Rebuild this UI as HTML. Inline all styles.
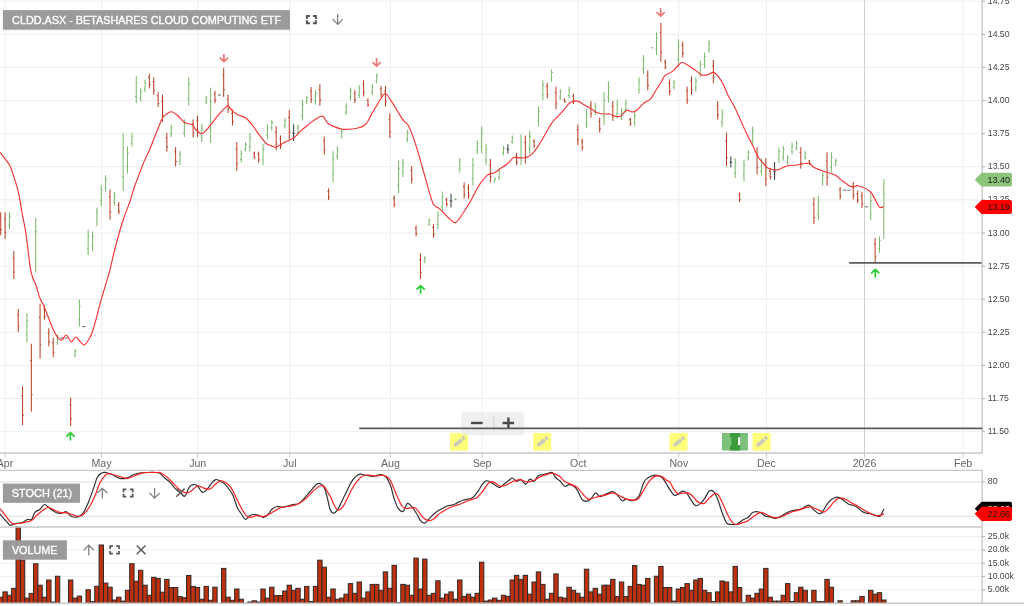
<!DOCTYPE html>
<html><head><meta charset="utf-8"><title>CLDD.ASX chart</title>
<style>
html,body{margin:0;padding:0;background:#fff;}
body{width:1024px;height:606px;overflow:hidden;}
svg{display:block;filter:blur(0.3px);}
</style></head>
<body>
<svg width="1024" height="606" viewBox="0 0 1024 606">
<rect width="1024" height="606" fill="#fff"/>
<g stroke="#eeeeee" stroke-width="1" fill="none">
<line x1="0" y1="1.21" x2="982.2" y2="1.21"/>
<line x1="0" y1="34.33" x2="982.2" y2="34.33"/>
<line x1="0" y1="67.44" x2="982.2" y2="67.44"/>
<line x1="0" y1="100.55" x2="982.2" y2="100.55"/>
<line x1="0" y1="133.66" x2="982.2" y2="133.66"/>
<line x1="0" y1="166.77" x2="982.2" y2="166.77"/>
<line x1="0" y1="199.89" x2="982.2" y2="199.89"/>
<line x1="0" y1="233.00" x2="982.2" y2="233.00"/>
<line x1="0" y1="266.11" x2="982.2" y2="266.11"/>
<line x1="0" y1="299.22" x2="982.2" y2="299.22"/>
<line x1="0" y1="332.34" x2="982.2" y2="332.34"/>
<line x1="0" y1="365.45" x2="982.2" y2="365.45"/>
<line x1="0" y1="398.56" x2="982.2" y2="398.56"/>
<line x1="0" y1="431.68" x2="982.2" y2="431.68"/>
<line x1="5.0" y1="0" x2="5.0" y2="453.0"/>
<line x1="101.5" y1="0" x2="101.5" y2="453.0"/>
<line x1="197.7" y1="0" x2="197.7" y2="453.0"/>
<line x1="289.8" y1="0" x2="289.8" y2="453.0"/>
<line x1="390.4" y1="0" x2="390.4" y2="453.0"/>
<line x1="482.1" y1="0" x2="482.1" y2="453.0"/>
<line x1="578.3" y1="0" x2="578.3" y2="453.0"/>
<line x1="678.8" y1="0" x2="678.8" y2="453.0"/>
<line x1="766.4" y1="0" x2="766.4" y2="453.0"/>
<line x1="963.1" y1="0" x2="963.1" y2="453.0"/>
</g>
<line x1="864.5" y1="0" x2="864.5" y2="453.0" stroke="#cfcfcf" stroke-width="1"/>
<g stroke="#e4e4e4" stroke-width="1.2">
<line x1="0" y1="481.9" x2="982.2" y2="481.9"/>
<line x1="0" y1="516.4" x2="982.2" y2="516.4"/>
</g>
<g stroke="#eeeeee" stroke-width="1">
<line x1="0" y1="536.7" x2="982.2" y2="536.7"/>
<line x1="0" y1="550.0" x2="982.2" y2="550.0"/>
<line x1="0" y1="563.3" x2="982.2" y2="563.3"/>
<line x1="0" y1="576.4" x2="982.2" y2="576.4"/>
<line x1="0" y1="590.0" x2="982.2" y2="590.0"/>
</g>
<g fill="#c0300c" stroke="#2a2a2a" stroke-width="1">
<rect x="-1.46" y="597.20" width="4.37" height="6.10"/>
<rect x="2.91" y="591.90" width="4.37" height="11.40"/>
<rect x="7.29" y="595.30" width="4.37" height="8.00"/>
<rect x="11.66" y="588.30" width="4.37" height="15.00"/>
<rect x="16.03" y="527.00" width="4.37" height="76.30"/>
<rect x="20.40" y="560.20" width="4.37" height="43.10"/>
<rect x="24.77" y="598.10" width="4.37" height="5.20"/>
<rect x="29.15" y="593.40" width="4.37" height="9.90"/>
<rect x="33.52" y="563.75" width="4.37" height="39.55"/>
<rect x="37.89" y="585.20" width="4.37" height="18.10"/>
<rect x="42.26" y="597.20" width="4.37" height="6.10"/>
<rect x="46.63" y="580.00" width="4.37" height="23.30"/>
<rect x="51.01" y="602.00" width="4.37" height="1.30"/>
<rect x="55.38" y="576.25" width="4.37" height="27.05"/>
<rect x="68.49" y="580.00" width="4.37" height="23.30"/>
<rect x="72.87" y="598.10" width="4.37" height="5.20"/>
<rect x="77.24" y="596.10" width="4.37" height="7.20"/>
<rect x="85.98" y="589.80" width="4.37" height="13.50"/>
<rect x="90.35" y="601.60" width="4.37" height="1.70"/>
<rect x="94.73" y="586.25" width="4.37" height="17.05"/>
<rect x="99.10" y="545.00" width="4.37" height="58.30"/>
<rect x="103.47" y="583.10" width="4.37" height="20.20"/>
<rect x="107.84" y="587.20" width="4.37" height="16.10"/>
<rect x="112.21" y="600.00" width="4.37" height="3.30"/>
<rect x="116.59" y="597.20" width="4.37" height="6.10"/>
<rect x="120.96" y="601.10" width="4.37" height="2.20"/>
<rect x="125.33" y="590.30" width="4.37" height="13.00"/>
<rect x="129.70" y="563.75" width="4.37" height="39.55"/>
<rect x="134.07" y="581.25" width="4.37" height="22.05"/>
<rect x="138.45" y="570.30" width="4.37" height="33.00"/>
<rect x="142.82" y="585.20" width="4.37" height="18.10"/>
<rect x="147.19" y="595.30" width="4.37" height="8.00"/>
<rect x="151.56" y="577.30" width="4.37" height="26.00"/>
<rect x="155.93" y="578.40" width="4.37" height="24.90"/>
<rect x="160.31" y="592.20" width="4.37" height="11.10"/>
<rect x="164.68" y="579.40" width="4.37" height="23.90"/>
<rect x="169.05" y="587.50" width="4.37" height="15.80"/>
<rect x="173.42" y="587.50" width="4.37" height="15.80"/>
<rect x="177.79" y="596.60" width="4.37" height="6.70"/>
<rect x="182.17" y="597.70" width="4.37" height="5.60"/>
<rect x="186.54" y="575.50" width="4.37" height="27.80"/>
<rect x="190.91" y="586.40" width="4.37" height="16.90"/>
<rect x="195.28" y="587.50" width="4.37" height="15.80"/>
<rect x="199.65" y="599.20" width="4.37" height="4.10"/>
<rect x="204.03" y="586.40" width="4.37" height="16.90"/>
<rect x="208.40" y="600.30" width="4.37" height="3.00"/>
<rect x="212.77" y="587.20" width="4.37" height="16.10"/>
<rect x="221.51" y="568.40" width="4.37" height="34.90"/>
<rect x="225.89" y="597.20" width="4.37" height="6.10"/>
<rect x="230.26" y="600.30" width="4.37" height="3.00"/>
<rect x="234.63" y="589.00" width="4.37" height="14.30"/>
<rect x="239.00" y="599.20" width="4.37" height="4.10"/>
<rect x="247.75" y="602.00" width="4.37" height="1.30"/>
<rect x="252.12" y="600.80" width="4.37" height="2.50"/>
<rect x="256.49" y="602.00" width="4.37" height="1.30"/>
<rect x="260.86" y="589.00" width="4.37" height="14.30"/>
<rect x="265.23" y="598.10" width="4.37" height="5.20"/>
<rect x="269.61" y="587.20" width="4.37" height="16.10"/>
<rect x="273.98" y="595.60" width="4.37" height="7.70"/>
<rect x="278.35" y="595.60" width="4.37" height="7.70"/>
<rect x="282.72" y="591.00" width="4.37" height="12.30"/>
<rect x="287.09" y="585.20" width="4.37" height="18.10"/>
<rect x="291.47" y="590.30" width="4.37" height="13.00"/>
<rect x="295.84" y="588.30" width="4.37" height="15.00"/>
<rect x="300.21" y="599.20" width="4.37" height="4.10"/>
<rect x="304.58" y="586.40" width="4.37" height="16.90"/>
<rect x="308.95" y="601.60" width="4.37" height="1.70"/>
<rect x="313.33" y="586.40" width="4.37" height="16.90"/>
<rect x="317.70" y="560.20" width="4.37" height="43.10"/>
<rect x="322.07" y="567.20" width="4.37" height="36.10"/>
<rect x="326.44" y="597.20" width="4.37" height="6.10"/>
<rect x="330.81" y="589.00" width="4.37" height="14.30"/>
<rect x="335.19" y="599.20" width="4.37" height="4.10"/>
<rect x="339.56" y="598.10" width="4.37" height="5.20"/>
<rect x="343.93" y="594.20" width="4.37" height="9.10"/>
<rect x="348.30" y="583.60" width="4.37" height="19.70"/>
<rect x="352.67" y="593.30" width="4.37" height="10.00"/>
<rect x="357.05" y="582.00" width="4.37" height="21.30"/>
<rect x="361.42" y="598.10" width="4.37" height="5.20"/>
<rect x="365.79" y="591.90" width="4.37" height="11.40"/>
<rect x="370.16" y="584.40" width="4.37" height="18.90"/>
<rect x="374.53" y="584.40" width="4.37" height="18.90"/>
<rect x="378.91" y="590.30" width="4.37" height="13.00"/>
<rect x="383.28" y="571.90" width="4.37" height="31.40"/>
<rect x="387.65" y="588.30" width="4.37" height="15.00"/>
<rect x="392.02" y="565.30" width="4.37" height="38.00"/>
<rect x="396.39" y="602.50" width="4.37" height="0.80"/>
<rect x="400.77" y="584.40" width="4.37" height="18.90"/>
<rect x="405.14" y="585.20" width="4.37" height="18.10"/>
<rect x="409.51" y="595.30" width="4.37" height="8.00"/>
<rect x="413.88" y="558.10" width="4.37" height="45.20"/>
<rect x="418.25" y="589.00" width="4.37" height="14.30"/>
<rect x="422.63" y="559.10" width="4.37" height="44.20"/>
<rect x="427.00" y="595.30" width="4.37" height="8.00"/>
<rect x="431.37" y="593.30" width="4.37" height="10.00"/>
<rect x="435.74" y="580.80" width="4.37" height="22.50"/>
<rect x="440.11" y="598.10" width="4.37" height="5.20"/>
<rect x="444.49" y="594.20" width="4.37" height="9.10"/>
<rect x="448.86" y="591.90" width="4.37" height="11.40"/>
<rect x="453.23" y="599.20" width="4.37" height="4.10"/>
<rect x="457.60" y="580.00" width="4.37" height="23.30"/>
<rect x="461.97" y="596.40" width="4.37" height="6.90"/>
<rect x="466.35" y="594.20" width="4.37" height="9.10"/>
<rect x="470.72" y="597.20" width="4.37" height="6.10"/>
<rect x="475.09" y="593.30" width="4.37" height="10.00"/>
<rect x="479.46" y="562.20" width="4.37" height="41.10"/>
<rect x="483.83" y="601.10" width="4.37" height="2.20"/>
<rect x="488.21" y="600.00" width="4.37" height="3.30"/>
<rect x="492.58" y="598.10" width="4.37" height="5.20"/>
<rect x="496.95" y="600.30" width="4.37" height="3.00"/>
<rect x="501.32" y="595.30" width="4.37" height="8.00"/>
<rect x="505.69" y="596.40" width="4.37" height="6.90"/>
<rect x="510.07" y="580.00" width="4.37" height="23.30"/>
<rect x="514.44" y="575.30" width="4.37" height="28.00"/>
<rect x="518.81" y="579.40" width="4.37" height="23.90"/>
<rect x="523.18" y="575.30" width="4.37" height="28.00"/>
<rect x="527.55" y="594.20" width="4.37" height="9.10"/>
<rect x="531.93" y="582.00" width="4.37" height="21.30"/>
<rect x="536.30" y="571.90" width="4.37" height="31.40"/>
<rect x="540.67" y="584.40" width="4.37" height="18.90"/>
<rect x="545.04" y="599.20" width="4.37" height="4.10"/>
<rect x="549.41" y="593.30" width="4.37" height="10.00"/>
<rect x="553.79" y="573.90" width="4.37" height="29.40"/>
<rect x="558.16" y="597.20" width="4.37" height="6.10"/>
<rect x="562.53" y="598.10" width="4.37" height="5.20"/>
<rect x="566.90" y="587.20" width="4.37" height="16.10"/>
<rect x="571.27" y="590.30" width="4.37" height="13.00"/>
<rect x="575.65" y="593.30" width="4.37" height="10.00"/>
<rect x="580.02" y="597.20" width="4.37" height="6.10"/>
<rect x="584.39" y="569.20" width="4.37" height="34.10"/>
<rect x="588.76" y="591.90" width="4.37" height="11.40"/>
<rect x="593.13" y="588.30" width="4.37" height="15.00"/>
<rect x="597.51" y="594.20" width="4.37" height="9.10"/>
<rect x="601.88" y="585.20" width="4.37" height="18.10"/>
<rect x="606.25" y="585.20" width="4.37" height="18.10"/>
<rect x="610.62" y="579.40" width="4.37" height="23.90"/>
<rect x="614.99" y="596.60" width="4.37" height="6.70"/>
<rect x="619.37" y="582.00" width="4.37" height="21.30"/>
<rect x="623.74" y="596.60" width="4.37" height="6.70"/>
<rect x="628.11" y="586.40" width="4.37" height="16.90"/>
<rect x="632.48" y="565.60" width="4.37" height="37.70"/>
<rect x="636.85" y="584.40" width="4.37" height="18.90"/>
<rect x="641.23" y="585.20" width="4.37" height="18.10"/>
<rect x="645.60" y="578.40" width="4.37" height="24.90"/>
<rect x="654.34" y="576.25" width="4.37" height="27.05"/>
<rect x="658.71" y="566.40" width="4.37" height="36.90"/>
<rect x="663.09" y="587.50" width="4.37" height="15.80"/>
<rect x="667.46" y="587.50" width="4.37" height="15.80"/>
<rect x="671.83" y="601.10" width="4.37" height="2.20"/>
<rect x="676.20" y="589.00" width="4.37" height="14.30"/>
<rect x="680.57" y="587.50" width="4.37" height="15.80"/>
<rect x="684.95" y="583.60" width="4.37" height="19.70"/>
<rect x="689.32" y="590.30" width="4.37" height="13.00"/>
<rect x="693.69" y="580.00" width="4.37" height="23.30"/>
<rect x="698.06" y="578.40" width="4.37" height="24.90"/>
<rect x="702.43" y="590.30" width="4.37" height="13.00"/>
<rect x="706.81" y="592.70" width="4.37" height="10.60"/>
<rect x="711.18" y="601.60" width="4.37" height="1.70"/>
<rect x="715.55" y="591.90" width="4.37" height="11.40"/>
<rect x="719.92" y="581.00" width="4.37" height="22.30"/>
<rect x="724.29" y="582.00" width="4.37" height="21.30"/>
<rect x="728.67" y="591.90" width="4.37" height="11.40"/>
<rect x="733.04" y="566.40" width="4.37" height="36.90"/>
<rect x="737.41" y="587.50" width="4.37" height="15.80"/>
<rect x="741.78" y="602.50" width="4.37" height="0.80"/>
<rect x="746.15" y="595.30" width="4.37" height="8.00"/>
<rect x="750.53" y="598.10" width="4.37" height="5.20"/>
<rect x="754.90" y="593.30" width="4.37" height="10.00"/>
<rect x="759.27" y="589.00" width="4.37" height="14.30"/>
<rect x="763.64" y="568.40" width="4.37" height="34.90"/>
<rect x="768.01" y="597.20" width="4.37" height="6.10"/>
<rect x="772.39" y="601.10" width="4.37" height="2.20"/>
<rect x="776.76" y="601.10" width="4.37" height="2.20"/>
<rect x="781.13" y="595.30" width="4.37" height="8.00"/>
<rect x="785.50" y="583.60" width="4.37" height="19.70"/>
<rect x="789.87" y="601.60" width="4.37" height="1.70"/>
<rect x="794.25" y="592.70" width="4.37" height="10.60"/>
<rect x="798.62" y="587.20" width="4.37" height="16.10"/>
<rect x="802.99" y="590.30" width="4.37" height="13.00"/>
<rect x="807.36" y="602.50" width="4.37" height="0.80"/>
<rect x="811.73" y="590.30" width="4.37" height="13.00"/>
<rect x="816.11" y="601.60" width="4.37" height="1.70"/>
<rect x="820.48" y="601.60" width="4.37" height="1.70"/>
<rect x="824.85" y="579.40" width="4.37" height="23.90"/>
<rect x="829.22" y="587.20" width="4.37" height="16.10"/>
<rect x="837.97" y="600.80" width="4.37" height="2.50"/>
<rect x="851.08" y="600.80" width="4.37" height="2.50"/>
<rect x="855.45" y="600.80" width="4.37" height="2.50"/>
<rect x="859.83" y="596.40" width="4.37" height="6.90"/>
<rect x="868.57" y="590.30" width="4.37" height="13.00"/>
<rect x="872.94" y="594.20" width="4.37" height="9.10"/>
<rect x="877.31" y="592.70" width="4.37" height="10.60"/>
<rect x="881.69" y="600.00" width="4.37" height="3.30"/>
</g>
<g stroke-width="1" fill="none" stroke-linecap="butt">
<path d="M0.73 212.30V235.30M-0.47 218.05H0.73M0.73 229.55H1.93" stroke="#b83a1e"/>
<path d="M5.10 212.30V239.00M3.90 218.98H5.10M5.10 232.32H6.30" stroke="#b83a1e"/>
<path d="M9.47 212.30V229.60M8.27 225.28H9.47M9.47 216.62H10.67" stroke="#78b868"/>
<path d="M13.84 251.00V279.00M12.64 258.00H13.84M13.84 272.00H15.04" stroke="#b83a1e"/>
<path d="M18.22 309.00V332.00M17.02 314.75H18.22M18.22 326.25H19.42" stroke="#b83a1e"/>
<path d="M22.59 386.00V425.00M21.39 395.75H22.59M22.59 415.25H23.79" stroke="#b83a1e"/>
<path d="M26.96 313.00V342.40M25.76 335.05H26.96M26.96 320.35H28.16" stroke="#78b868"/>
<path d="M31.33 343.70V411.70M30.13 360.70H31.33M31.33 394.70H32.53" stroke="#b83a1e"/>
<path d="M35.70 218.00V272.40M34.50 258.80H35.70M35.70 231.60H36.90" stroke="#78b868"/>
<path d="M40.08 303.60V358.50M38.88 317.33H40.08M40.08 344.77H41.28" stroke="#b83a1e"/>
<path d="M44.45 305.30V319.70M43.25 308.90H44.45M44.45 316.10H45.65" stroke="#b83a1e"/>
<path d="M48.82 328.30V346.40M47.62 332.82H48.82M48.82 341.88H50.02" stroke="#b83a1e"/>
<path d="M53.19 337.70V357.30M51.99 342.60H53.19M53.19 352.40H54.39" stroke="#b83a1e"/>
<path d="M57.56 334.50V345.00M56.36 342.38H57.56M57.56 337.12H58.76" stroke="#78b868"/>
<line x1="60.34" y1="338.00" x2="63.54" y2="338.00" stroke="#666666"/>
<line x1="64.71" y1="338.00" x2="67.91" y2="338.00" stroke="#666666"/>
<path d="M70.68 397.60V426.00M69.48 404.70H70.68M70.68 418.90H71.88" stroke="#b83a1e"/>
<path d="M75.05 349.00V357.30M73.85 355.23H75.05M75.05 351.07H76.25" stroke="#78b868"/>
<path d="M79.42 299.40V326.60M78.22 319.80H79.42M79.42 306.20H80.62" stroke="#78b868"/>
<line x1="82.20" y1="326.60" x2="85.40" y2="326.60" stroke="#666666"/>
<path d="M88.17 229.60V255.20M86.97 248.80H88.17M88.17 236.00H89.37" stroke="#78b868"/>
<path d="M92.54 231.50V250.80M91.34 245.98H92.54M92.54 236.32H93.74" stroke="#78b868"/>
<path d="M96.91 207.50V226.20M95.71 221.52H96.91M96.91 212.18H98.11" stroke="#78b868"/>
<path d="M101.28 185.30V206.20M100.08 200.97H101.28M101.28 190.53H102.48" stroke="#78b868"/>
<path d="M105.66 175.00V192.20M104.46 187.90H105.66M105.66 179.30H106.86" stroke="#78b868"/>
<path d="M110.03 189.50V219.60M108.83 197.03H110.03M110.03 212.07H111.23" stroke="#b83a1e"/>
<path d="M114.40 192.00V205.50M113.20 202.12H114.40M114.40 195.38H115.60" stroke="#78b868"/>
<path d="M118.77 202.20V214.30M117.57 205.22H118.77M118.77 211.28H119.97" stroke="#b83a1e"/>
<path d="M123.14 133.00V191.20M121.94 176.65H123.14M123.14 147.55H124.34" stroke="#78b868"/>
<path d="M127.52 146.60V173.40M126.32 166.70H127.52M127.52 153.30H128.72" stroke="#78b868"/>
<path d="M131.89 133.00V146.60M130.69 143.20H131.89M131.89 136.40H133.09" stroke="#78b868"/>
<path d="M136.26 76.00V103.30M135.06 96.47H136.26M136.26 82.83H137.46" stroke="#78b868"/>
<path d="M140.63 88.50V101.60M139.43 98.32H140.63M140.63 91.78H141.83" stroke="#78b868"/>
<path d="M145.00 79.80V92.20M143.80 89.10H145.00M145.00 82.90H146.20" stroke="#78b868"/>
<path d="M149.38 73.60V88.50M148.18 77.32H149.38M149.38 84.78H150.58" stroke="#b83a1e"/>
<path d="M153.75 77.30V94.70M152.55 81.65H153.75M153.75 90.35H154.95" stroke="#b83a1e"/>
<path d="M158.12 92.20V107.00M156.92 95.90H158.12M158.12 103.30H159.32" stroke="#b83a1e"/>
<path d="M162.49 94.70V121.90M161.29 101.50H162.49M162.49 115.10H163.69" stroke="#b83a1e"/>
<path d="M166.86 133.00V151.60M165.66 137.65H166.86M166.86 146.95H168.06" stroke="#b83a1e"/>
<path d="M171.24 124.90V137.20M170.04 134.12H171.24M171.24 127.97H172.44" stroke="#78b868"/>
<path d="M175.61 147.10V166.40M174.41 151.93H175.61M175.61 161.57H176.81" stroke="#b83a1e"/>
<path d="M179.98 151.00V165.20M178.78 161.65H179.98M179.98 154.55H181.18" stroke="#78b868"/>
<path d="M184.35 119.40V137.20M183.15 132.75H184.35M184.35 123.85H185.55" stroke="#78b868"/>
<path d="M188.72 77.30V105.80M187.52 98.67H188.72M188.72 84.42H189.92" stroke="#78b868"/>
<path d="M193.10 119.40V137.50M191.90 123.93H193.10M193.10 132.97H194.30" stroke="#b83a1e"/>
<path d="M197.47 115.60V137.10M196.27 120.97H197.47M197.47 131.72H198.67" stroke="#b83a1e"/>
<path d="M201.84 123.80V142.10M200.64 137.53H201.84M201.84 128.38H203.04" stroke="#78b868"/>
<path d="M206.21 95.80V104.00M205.01 101.95H206.21M206.21 97.85H207.41" stroke="#78b868"/>
<path d="M210.58 87.60V142.80M209.38 129.00H210.58M210.58 101.40H211.78" stroke="#78b868"/>
<path d="M214.96 90.80V103.20M213.76 93.90H214.96M214.96 100.10H216.16" stroke="#b83a1e"/>
<line x1="217.73" y1="95.00" x2="220.93" y2="95.00" stroke="#666666"/>
<path d="M223.70 67.80V97.00M222.50 75.10H223.70M223.70 89.70H224.90" stroke="#b83a1e"/>
<path d="M228.07 94.60V113.10M226.87 99.22H228.07M228.07 108.47H229.27" stroke="#b83a1e"/>
<path d="M232.44 109.40V125.50M231.24 113.43H232.44M232.44 121.47H233.64" stroke="#b83a1e"/>
<path d="M236.82 142.10V170.80M235.62 149.28H236.82M236.82 163.62H238.02" stroke="#b83a1e"/>
<path d="M241.19 150.20V162.60M239.99 159.50H241.19M241.19 153.30H242.39" stroke="#78b868"/>
<path d="M245.56 142.10V151.50M244.36 149.15H245.56M245.56 144.45H246.76" stroke="#78b868"/>
<path d="M249.93 132.90V151.50M248.73 146.85H249.93M249.93 137.55H251.13" stroke="#78b868"/>
<path d="M254.30 151.50V158.90M253.10 153.35H254.30M254.30 157.05H255.50" stroke="#b83a1e"/>
<path d="M258.68 151.50V162.60M257.48 154.28H258.68M258.68 159.82H259.88" stroke="#b83a1e"/>
<path d="M263.05 144.00V165.10M261.85 159.82H263.05M263.05 149.28H264.25" stroke="#78b868"/>
<path d="M267.42 124.30V139.10M266.22 135.40H267.42M267.42 128.00H268.62" stroke="#78b868"/>
<path d="M271.79 119.80V130.40M270.59 127.75H271.79M271.79 122.45H272.99" stroke="#78b868"/>
<path d="M276.16 126.20V150.20M274.96 132.20H276.16M276.16 144.20H277.36" stroke="#b83a1e"/>
<path d="M280.54 135.40V149.00M279.34 138.80H280.54M280.54 145.60H281.74" stroke="#b83a1e"/>
<path d="M284.91 118.00V128.70M283.71 126.02H284.91M284.91 120.67H286.11" stroke="#78b868"/>
<path d="M289.28 110.00V139.60M288.08 117.40H289.28M289.28 132.20H290.48" stroke="#b83a1e"/>
<path d="M293.65 124.30V141.10M292.45 132.70H293.65M293.65 133.54H294.85" stroke="#2f3a40"/>
<path d="M298.02 124.30V135.40M296.82 132.62H298.02M298.02 127.08H299.22" stroke="#78b868"/>
<path d="M302.40 99.50V120.50M301.20 115.25H302.40M302.40 104.75H303.60" stroke="#78b868"/>
<path d="M306.77 95.80V104.00M305.57 101.95H306.77M306.77 97.85H307.97" stroke="#78b868"/>
<path d="M311.14 87.10V103.20M309.94 91.12H311.14M311.14 99.17H312.34" stroke="#b83a1e"/>
<path d="M315.51 90.10V104.50M314.31 100.90H315.51M315.51 93.70H316.71" stroke="#78b868"/>
<path d="M319.88 84.20V105.70M318.68 89.58H319.88M319.88 100.33H321.08" stroke="#b83a1e"/>
<path d="M324.26 136.60V154.50M323.06 141.07H324.26M324.26 150.03H325.46" stroke="#b83a1e"/>
<path d="M328.63 188.40V200.00M327.43 191.30H328.63M328.63 197.10H329.83" stroke="#b83a1e"/>
<path d="M333.00 151.30V182.50M331.80 174.70H333.00M333.00 159.10H334.20" stroke="#78b868"/>
<path d="M337.37 146.40V159.60M336.17 156.30H337.37M337.37 149.70H338.57" stroke="#78b868"/>
<path d="M341.74 128.70V138.60M340.54 136.12H341.74M341.74 131.17H342.94" stroke="#78b868"/>
<path d="M346.12 103.20V114.90M344.92 111.98H346.12M346.12 106.12H347.32" stroke="#78b868"/>
<path d="M350.49 87.60V100.70M349.29 97.42H350.49M350.49 90.88H351.69" stroke="#78b868"/>
<path d="M354.86 90.10V103.20M353.66 93.38H354.86M354.86 99.92H356.06" stroke="#b83a1e"/>
<path d="M359.23 85.10V98.30M358.03 95.00H359.23M359.23 88.40H360.43" stroke="#78b868"/>
<path d="M363.60 80.20V96.50M362.40 84.28H363.60M363.60 92.42H364.80" stroke="#b83a1e"/>
<path d="M367.98 98.30V106.90M366.78 100.45H367.98M367.98 104.75H369.18" stroke="#b83a1e"/>
<path d="M372.35 84.20V95.00M371.15 92.30H372.35M372.35 86.90H373.55" stroke="#78b868"/>
<path d="M376.72 73.50V83.40M375.52 80.93H376.72M376.72 75.97H377.92" stroke="#78b868"/>
<path d="M381.09 85.90V97.00M379.89 88.68H381.09M381.09 94.22H382.29" stroke="#b83a1e"/>
<path d="M385.46 86.00V106.60M384.26 91.15H385.46M385.46 101.45H386.66" stroke="#b83a1e"/>
<path d="M389.84 113.30V138.00M388.64 119.47H389.84M389.84 131.82H391.04" stroke="#b83a1e"/>
<path d="M394.21 195.40V207.40M393.01 198.40H394.21M394.21 204.40H395.41" stroke="#b83a1e"/>
<path d="M398.58 160.60V193.00M397.38 184.90H398.58M398.58 168.70H399.78" stroke="#78b868"/>
<path d="M402.95 159.00V177.00M401.75 172.50H402.95M402.95 163.50H404.15" stroke="#78b868"/>
<path d="M407.32 130.00V142.30M406.12 139.23H407.32M407.32 133.07H408.52" stroke="#78b868"/>
<path d="M411.70 166.00V183.40M410.50 170.35H411.70M411.70 179.05H412.90" stroke="#b83a1e"/>
<path d="M416.07 225.50V236.40M414.87 228.22H416.07M416.07 233.68H417.27" stroke="#b83a1e"/>
<path d="M420.44 253.30V279.00M419.24 259.73H420.44M420.44 272.57H421.64" stroke="#b83a1e"/>
<path d="M424.81 256.20V263.20M423.61 261.45H424.81M424.81 257.95H426.01" stroke="#78b868"/>
<path d="M429.18 218.60V226.00M427.98 224.15H429.18M429.18 220.45H430.38" stroke="#78b868"/>
<path d="M433.56 224.00V237.80M432.36 227.45H433.56M433.56 234.35H434.76" stroke="#b83a1e"/>
<path d="M437.93 211.30V229.10M436.73 224.65H437.93M437.93 215.75H439.13" stroke="#78b868"/>
<path d="M442.30 191.50V212.00M441.10 206.88H442.30M442.30 196.62H443.50" stroke="#78b868"/>
<path d="M446.67 197.60V206.50M445.47 199.82H446.67M446.67 204.28H447.87" stroke="#b83a1e"/>
<path d="M451.04 193.80V207.50M449.84 200.65H451.04M451.04 201.34H452.24" stroke="#2f3a40"/>
<path d="M455.42 198.70V200.00M454.22 199.68H455.42M455.42 199.02H456.62" stroke="#78b868"/>
<path d="M459.79 157.90V172.70M458.59 169.00H459.79M459.79 161.60H460.99" stroke="#78b868"/>
<path d="M464.16 182.50V198.50M462.96 186.50H464.16M464.16 194.50H465.36" stroke="#b83a1e"/>
<path d="M468.53 184.40V198.80M467.33 188.00H468.53M468.53 195.20H469.73" stroke="#b83a1e"/>
<path d="M472.90 157.90V185.80M471.70 178.83H472.90M472.90 164.88H474.10" stroke="#78b868"/>
<path d="M477.28 140.00V154.00M476.08 150.50H477.28M477.28 143.50H478.48" stroke="#78b868"/>
<path d="M481.65 126.30V153.60M480.45 146.78H481.65M481.65 133.12H482.85" stroke="#78b868"/>
<path d="M486.02 144.20V165.20M484.82 159.95H486.02M486.02 149.45H487.22" stroke="#78b868"/>
<path d="M490.39 159.00V182.50M489.19 164.88H490.39M490.39 176.62H491.59" stroke="#b83a1e"/>
<path d="M494.76 177.60V182.50M493.56 181.28H494.76M494.76 178.82H495.96" stroke="#78b868"/>
<path d="M499.14 167.70V180.00M497.94 176.93H499.14M499.14 170.77H500.34" stroke="#78b868"/>
<path d="M503.51 146.10V155.30M502.31 153.00H503.51M503.51 148.40H504.71" stroke="#78b868"/>
<path d="M507.88 144.20V153.60M506.68 148.90H507.88M507.88 149.37H509.08" stroke="#2f3a40"/>
<path d="M512.25 135.50V143.70M511.05 141.65H512.25M512.25 137.55H513.45" stroke="#78b868"/>
<path d="M516.62 152.80V165.20M515.42 155.90H516.62M516.62 162.10H517.82" stroke="#b83a1e"/>
<path d="M521.00 134.30V165.20M519.80 157.47H521.00M521.00 142.03H522.20" stroke="#78b868"/>
<path d="M525.37 135.50V163.50M524.17 142.50H525.37M525.37 156.50H526.57" stroke="#b83a1e"/>
<path d="M529.74 130.50V154.00M528.54 148.12H529.74M529.74 136.38H530.94" stroke="#78b868"/>
<path d="M534.11 139.20V147.90M532.91 141.38H534.11M534.11 145.72H535.31" stroke="#b83a1e"/>
<path d="M538.48 106.50V126.30M537.28 121.35H538.48M538.48 111.45H539.68" stroke="#78b868"/>
<path d="M542.86 80.30V100.10M541.66 95.15H542.86M542.86 85.25H544.06" stroke="#78b868"/>
<path d="M547.23 82.80V98.40M546.03 86.70H547.23M547.23 94.50H548.43" stroke="#b83a1e"/>
<path d="M551.60 69.40V81.80M550.40 78.70H551.60M551.60 72.50H552.80" stroke="#78b868"/>
<path d="M555.97 86.70V109.50M554.77 92.40H555.97M555.97 103.80H557.17" stroke="#b83a1e"/>
<path d="M560.34 89.20V100.10M559.14 97.38H560.34M560.34 91.92H561.54" stroke="#78b868"/>
<path d="M564.72 98.40V102.60M563.52 99.45H564.72M564.72 101.55H565.92" stroke="#b83a1e"/>
<path d="M569.09 86.70V98.40M567.89 95.48H569.09M569.09 89.62H570.29" stroke="#78b868"/>
<path d="M573.46 93.50V104.00M572.26 96.12H573.46M573.46 101.38H574.66" stroke="#b83a1e"/>
<path d="M577.83 124.40V144.90M576.63 129.53H577.83M577.83 139.78H579.03" stroke="#b83a1e"/>
<path d="M582.20 138.70V150.60M581.00 141.67H582.20M582.20 147.62H583.40" stroke="#b83a1e"/>
<path d="M586.58 109.00V128.30M585.38 123.48H586.58M586.58 113.83H587.78" stroke="#78b868"/>
<path d="M590.95 101.10V117.70M589.75 105.25H590.95M590.95 113.55H592.15" stroke="#b83a1e"/>
<path d="M595.32 102.80V115.20M594.12 112.10H595.32M595.32 105.90H596.52" stroke="#78b868"/>
<path d="M599.69 117.70V132.50M598.49 121.40H599.69M599.69 128.80H600.89" stroke="#b83a1e"/>
<path d="M604.06 92.20V125.10M602.86 116.88H604.06M604.06 100.42H605.26" stroke="#78b868"/>
<path d="M608.44 81.30V102.80M607.24 97.42H608.44M608.44 86.67H609.64" stroke="#78b868"/>
<path d="M612.81 101.10V120.90M611.61 106.05H612.81M612.81 115.95H614.01" stroke="#b83a1e"/>
<path d="M617.18 99.60V118.40M615.98 113.70H617.18M617.18 104.30H618.38" stroke="#78b868"/>
<path d="M621.55 107.80V120.10M620.35 117.02H621.55M621.55 110.88H622.75" stroke="#78b868"/>
<path d="M625.92 99.60V112.70M624.72 109.42H625.92M625.92 102.88H627.12" stroke="#78b868"/>
<path d="M630.30 117.70V125.80M629.10 119.72H630.30M630.30 123.78H631.50" stroke="#b83a1e"/>
<path d="M634.67 111.50V126.30M633.47 122.60H634.67M634.67 115.20H635.87" stroke="#78b868"/>
<path d="M639.04 77.30V93.70M637.84 89.60H639.04M639.04 81.40H640.24" stroke="#78b868"/>
<path d="M643.41 55.00V73.90M642.21 69.18H643.41M643.41 59.73H644.61" stroke="#78b868"/>
<path d="M647.78 70.60V90.40M646.58 75.55H647.78M647.78 85.45H648.98" stroke="#b83a1e"/>
<line x1="650.86" y1="47.80" x2="653.46" y2="47.80" stroke="#78b868"/>
<path d="M656.53 32.30V55.00M655.33 49.33H656.53M656.53 37.97H657.73" stroke="#78b868"/>
<path d="M660.90 22.90V62.00M659.70 32.67H660.90M660.90 52.23H662.10" stroke="#b83a1e"/>
<path d="M665.27 59.50V69.40M664.07 61.98H665.27M665.27 66.93H666.47" stroke="#b83a1e"/>
<path d="M669.64 79.30V95.40M668.44 83.33H669.64M669.64 91.38H670.84" stroke="#b83a1e"/>
<path d="M674.02 79.80V89.70M672.82 87.22H674.02M674.02 82.28H675.22" stroke="#78b868"/>
<path d="M678.39 39.20V66.90M677.19 59.98H678.39M678.39 46.12H679.59" stroke="#78b868"/>
<path d="M682.76 41.70V57.50M681.56 45.65H682.76M682.76 53.55H683.96" stroke="#b83a1e"/>
<path d="M687.13 86.70V104.00M685.93 91.03H687.13M687.13 99.67H688.33" stroke="#b83a1e"/>
<path d="M691.50 76.30V94.70M690.30 80.90H691.50M691.50 90.10H692.70" stroke="#b83a1e"/>
<path d="M695.88 77.30V91.70M694.68 88.10H695.88M695.88 80.90H697.08" stroke="#78b868"/>
<path d="M700.25 60.70V77.30M699.05 73.15H700.25M700.25 64.85H701.45" stroke="#78b868"/>
<path d="M704.62 52.60V68.20M703.42 64.30H704.62M704.62 56.50H705.82" stroke="#78b868"/>
<path d="M708.99 40.20V52.60M707.79 49.50H708.99M708.99 43.30H710.19" stroke="#78b868"/>
<path d="M713.36 60.00V83.00M712.16 65.75H713.36M713.36 77.25H714.56" stroke="#b83a1e"/>
<path d="M717.74 101.10V119.60M716.54 105.72H717.74M717.74 114.97H718.94" stroke="#b83a1e"/>
<path d="M722.11 109.00V126.80M720.91 122.35H722.11M722.11 113.45H723.31" stroke="#78b868"/>
<path d="M726.48 132.60V166.40M725.28 141.05H726.48M726.48 157.95H727.68" stroke="#b83a1e"/>
<path d="M730.85 156.50V167.40M729.65 161.95H730.85M730.85 162.50H732.05" stroke="#2f3a40"/>
<path d="M735.22 158.30V178.10M734.02 173.15H735.22M735.22 163.25H736.42" stroke="#78b868"/>
<path d="M739.60 192.20V202.10M738.40 194.67H739.60M739.60 199.62H740.80" stroke="#b83a1e"/>
<path d="M743.97 159.50V181.30M742.77 175.85H743.97M743.97 164.95H745.17" stroke="#78b868"/>
<path d="M748.34 150.10V160.70M747.14 158.05H748.34M748.34 152.75H749.54" stroke="#78b868"/>
<path d="M752.71 126.50V145.20M751.51 140.52H752.71M752.71 131.18H753.91" stroke="#78b868"/>
<path d="M757.08 147.20V174.40M755.88 154.00H757.08M757.08 167.60H758.28" stroke="#b83a1e"/>
<path d="M761.46 158.30V175.60M760.26 171.28H761.46M761.46 162.62H762.66" stroke="#78b868"/>
<path d="M765.83 158.30V186.20M764.63 165.28H765.83M765.83 179.22H767.03" stroke="#b83a1e"/>
<path d="M770.20 168.20V179.30M769.00 170.97H770.20M770.20 176.53H771.40" stroke="#b83a1e"/>
<path d="M774.57 162.00V179.80M773.37 170.90H774.57M774.57 171.79H775.77" stroke="#2f3a40"/>
<path d="M778.94 147.60V163.20M777.74 159.30H778.94M778.94 151.50H780.14" stroke="#78b868"/>
<path d="M783.32 145.90V160.70M782.12 157.00H783.32M783.32 149.60H784.52" stroke="#78b868"/>
<path d="M787.69 155.00V165.00M786.49 162.50H787.69M787.69 157.50H788.89" stroke="#78b868"/>
<path d="M792.06 142.70V154.60M790.86 151.62H792.06M792.06 145.67H793.26" stroke="#78b868"/>
<path d="M796.43 141.00V150.10M795.23 147.82H796.43M796.43 143.28H797.63" stroke="#78b868"/>
<path d="M800.80 147.20V168.70M799.60 152.57H800.80M800.80 163.32H802.00" stroke="#b83a1e"/>
<path d="M805.18 151.10V159.80M803.98 157.62H805.18M805.18 153.28H806.38" stroke="#78b868"/>
<path d="M809.55 159.80V164.80M808.35 161.05H809.55M809.55 163.55H810.75" stroke="#b83a1e"/>
<path d="M813.92 197.40V224.20M812.72 204.10H813.92M813.92 217.50H815.12" stroke="#b83a1e"/>
<path d="M818.29 195.70V220.40M817.09 214.22H818.29M818.29 201.88H819.49" stroke="#78b868"/>
<path d="M822.66 172.20V185.80M821.46 182.40H822.66M822.66 175.60H823.86" stroke="#78b868"/>
<path d="M827.04 152.40V185.80M825.84 160.75H827.04M827.04 177.45H828.24" stroke="#b83a1e"/>
<path d="M831.41 152.40V172.20M830.21 167.25H831.41M831.41 157.35H832.61" stroke="#78b868"/>
<path d="M835.78 158.60V166.00M834.58 164.15H835.78M835.78 160.45H836.98" stroke="#78b868"/>
<path d="M840.15 187.00V199.40M838.95 190.10H840.15M840.15 196.30H841.35" stroke="#b83a1e"/>
<line x1="842.92" y1="190.20" x2="846.12" y2="190.20" stroke="#666666"/>
<line x1="847.30" y1="190.20" x2="850.50" y2="190.20" stroke="#666666"/>
<path d="M853.27 182.00V199.40M852.07 186.35H853.27M853.27 195.05H854.47" stroke="#b83a1e"/>
<path d="M857.64 190.70V203.10M856.44 193.80H857.64M857.64 200.00H858.84" stroke="#b83a1e"/>
<path d="M862.01 192.00V208.00M860.81 196.00H862.01M862.01 204.00H863.21" stroke="#b83a1e"/>
<line x1="864.78" y1="206.80" x2="867.98" y2="206.80" stroke="#666666"/>
<path d="M870.76 194.50V220.40M869.56 213.93H870.76M870.76 200.97H871.96" stroke="#78b868"/>
<path d="M875.13 237.80V262.50M873.93 243.98H875.13M875.13 256.32H876.33" stroke="#b83a1e"/>
<path d="M879.50 236.50V252.60M878.30 248.57H879.50M879.50 240.53H880.70" stroke="#78b868"/>
<path d="M883.87 179.10V239.00M882.67 224.03H883.87M883.87 194.07H885.07" stroke="#78b868"/>
</g>
<path d="M0.00 152.40C1.57 154.47 7.13 160.88 9.40 164.80C11.67 168.72 12.07 171.17 13.60 175.90C15.13 180.63 17.15 186.80 18.60 193.20C20.05 199.60 21.07 207.48 22.30 214.30C23.53 221.12 24.57 224.62 26.00 234.10C27.43 243.58 29.25 262.72 30.90 271.20C32.55 279.68 34.45 280.63 35.90 285.00C37.35 289.37 38.37 294.10 39.60 297.40C40.83 300.70 41.85 301.50 43.30 304.80C44.75 308.10 46.65 313.07 48.30 317.20C49.95 321.33 51.55 326.10 53.20 329.60C54.85 333.10 56.75 336.47 58.20 338.20C59.65 339.93 60.55 340.53 61.90 340.00C63.25 339.47 64.73 334.68 66.30 335.00C67.87 335.32 69.77 341.57 71.30 341.90C72.83 342.23 73.98 337.00 75.50 337.00C77.02 337.00 78.95 340.58 80.40 341.90C81.85 343.22 82.95 345.10 84.20 344.90C85.45 344.70 86.47 343.05 87.90 340.70C89.33 338.35 90.55 337.78 92.80 330.80C95.05 323.82 98.65 308.53 101.40 298.80C104.15 289.07 107.10 280.53 109.30 272.40C111.50 264.27 112.40 258.40 114.60 250.00C116.80 241.60 120.08 229.70 122.50 222.00C124.92 214.30 127.58 208.13 129.10 203.80C130.62 199.47 130.62 199.08 131.60 196.00C132.58 192.92 132.83 191.23 135.00 185.30C137.17 179.37 142.18 166.28 144.60 160.40C147.02 154.52 147.77 154.07 149.50 150.00C151.23 145.93 152.92 141.17 155.00 136.00C157.08 130.83 160.07 122.67 162.00 119.00C163.93 115.33 165.02 115.20 166.60 114.00C168.18 112.80 169.77 111.63 171.50 111.80C173.23 111.97 174.92 113.30 177.00 115.00C179.08 116.70 182.17 120.58 184.00 122.00C185.83 123.42 186.50 123.00 188.00 123.50C189.50 124.00 191.83 124.13 193.00 125.00C194.17 125.87 193.52 127.25 195.00 128.70C196.48 130.15 199.43 134.12 201.90 133.70C204.37 133.28 207.25 129.10 209.80 126.20C212.35 123.30 214.72 119.30 217.20 116.30C219.68 113.30 222.83 109.97 224.70 108.20C226.57 106.43 227.18 105.30 228.40 105.70C229.62 106.10 230.35 109.07 232.00 110.60C233.65 112.13 236.02 113.67 238.30 114.90C240.58 116.13 243.43 116.43 245.70 118.00C247.97 119.57 250.22 122.30 251.90 124.30C253.58 126.30 254.67 128.37 255.80 130.00C256.93 131.63 257.25 132.17 258.70 134.10C260.15 136.03 263.07 139.92 264.50 141.60C265.93 143.28 266.22 143.53 267.30 144.20C268.38 144.87 269.53 145.10 271.00 145.60C272.47 146.10 274.33 147.47 276.10 147.20C277.87 146.93 280.12 144.85 281.60 144.00C283.08 143.15 282.98 143.12 285.00 142.10C287.02 141.08 291.22 139.63 293.70 137.90C296.18 136.17 297.63 133.77 299.90 131.70C302.17 129.63 304.83 127.48 307.30 125.50C309.77 123.52 312.43 121.33 314.70 119.80C316.97 118.27 319.45 116.80 320.90 116.30C322.35 115.80 322.58 116.10 323.40 116.80C324.22 117.50 324.98 119.33 325.80 120.50C326.62 121.67 326.85 122.77 328.30 123.80C329.75 124.83 332.23 125.80 334.50 126.70C336.77 127.60 339.42 128.78 341.90 129.20C344.38 129.62 346.72 129.40 349.40 129.20C352.08 129.00 355.53 128.62 358.00 128.00C360.47 127.38 362.55 126.62 364.20 125.50C365.85 124.38 366.67 123.23 367.90 121.30C369.13 119.37 370.15 116.50 371.60 113.90C373.05 111.30 375.15 108.10 376.60 105.70C378.05 103.30 378.83 101.53 380.30 99.50C381.77 97.47 383.60 93.27 385.40 93.50C387.20 93.73 389.12 98.02 391.10 100.90C393.08 103.78 395.23 107.50 397.30 110.80C399.37 114.10 401.77 118.42 403.50 120.70C405.23 122.98 406.25 122.22 407.70 124.50C409.15 126.78 410.63 130.28 412.20 134.40C413.77 138.52 415.45 143.85 417.10 149.20C418.75 154.55 420.45 160.72 422.10 166.50C423.75 172.28 425.15 177.70 427.00 183.90C428.85 190.10 431.13 199.58 433.20 203.70C435.27 207.82 437.33 206.75 439.40 208.60C441.47 210.45 443.58 212.80 445.60 214.80C447.62 216.80 449.87 219.30 451.50 220.60C453.13 221.90 454.08 222.93 455.40 222.60C456.72 222.27 457.75 220.75 459.40 218.60C461.05 216.45 463.32 212.83 465.30 209.70C467.28 206.57 469.68 202.68 471.30 199.80C472.92 196.92 473.55 195.07 475.00 192.40C476.45 189.73 477.93 186.68 480.00 183.80C482.07 180.92 484.93 176.97 487.40 175.10C489.87 173.23 492.73 173.63 494.80 172.60C496.87 171.57 497.73 170.33 499.80 168.90C501.87 167.47 504.93 165.85 507.20 164.00C509.47 162.15 511.33 158.83 513.40 157.80C515.47 156.77 517.55 157.80 519.60 157.80C521.65 157.80 523.65 158.42 525.70 157.80C527.75 157.18 530.03 155.75 531.90 154.10C533.77 152.45 535.03 150.58 536.90 147.90C538.77 145.22 540.63 142.13 543.10 138.00C545.57 133.87 549.23 126.70 551.70 123.10C554.17 119.50 555.83 118.67 557.90 116.40C559.97 114.13 562.03 111.80 564.10 109.50C566.17 107.20 568.08 104.00 570.30 102.60C572.52 101.20 574.97 100.65 577.40 101.10C579.83 101.55 582.42 103.90 584.90 105.30C587.38 106.70 590.25 108.27 592.30 109.50C594.35 110.73 595.13 111.95 597.20 112.70C599.27 113.45 602.63 113.78 604.70 114.00C606.77 114.22 607.75 113.60 609.60 114.00C611.45 114.40 613.95 116.07 615.80 116.40C617.65 116.73 618.93 117.03 620.70 116.00C622.47 114.97 624.53 110.87 626.40 110.20C628.27 109.53 630.17 112.00 631.90 112.00C633.63 112.00 634.73 111.73 636.80 110.20C638.87 108.67 642.03 104.65 644.30 102.80C646.57 100.95 648.35 101.37 650.40 99.10C652.45 96.83 654.73 92.17 656.60 89.20C658.47 86.23 660.20 83.57 661.60 81.30C663.00 79.03 663.20 77.25 665.00 75.60C666.80 73.95 670.13 73.17 672.40 71.40C674.67 69.63 676.95 66.48 678.60 65.00C680.25 63.52 680.43 62.27 682.30 62.50C684.17 62.73 687.53 65.05 689.80 66.40C692.07 67.75 693.93 69.18 695.90 70.60C697.87 72.02 699.73 74.18 701.60 74.90C703.47 75.62 705.15 75.32 707.10 74.90C709.05 74.48 711.45 72.17 713.30 72.40C715.15 72.63 716.55 74.32 718.20 76.30C719.85 78.28 721.55 81.12 723.20 84.30C724.85 87.48 726.25 91.70 728.10 95.40C729.95 99.10 732.23 102.38 734.30 106.50C736.37 110.62 738.43 115.55 740.50 120.10C742.57 124.65 744.63 129.47 746.70 133.80C748.77 138.13 750.98 142.23 752.90 146.10C754.82 149.97 756.48 154.15 758.20 157.00C759.92 159.85 761.55 161.33 763.20 163.20C764.85 165.07 765.83 167.08 768.10 168.20C770.37 169.32 774.53 169.90 776.80 169.90C779.07 169.90 779.85 168.90 781.70 168.20C783.55 167.50 785.42 166.23 787.90 165.70C790.38 165.17 793.75 165.37 796.60 165.00C799.45 164.63 802.78 163.75 805.00 163.50C807.22 163.25 808.47 162.88 809.90 163.50C811.33 164.12 811.12 165.83 813.60 167.20C816.08 168.57 821.28 170.45 824.80 171.70C828.32 172.95 832.03 173.38 834.70 174.70C837.37 176.02 837.92 177.55 840.80 179.60C843.68 181.65 849.10 185.97 852.00 187.00C854.90 188.03 855.12 184.97 858.20 185.80C861.28 186.63 867.00 188.50 870.50 192.00C874.00 195.50 877.00 204.42 879.20 206.80C881.40 209.18 882.95 206.38 883.70 206.30" fill="none" stroke="#f53434" stroke-width="1.15" stroke-linejoin="round"/>
<path d="M0.00 514.00C0.83 514.97 3.33 517.95 5.00 519.80C6.67 521.65 8.33 524.48 10.00 525.10C11.67 525.72 13.07 523.88 15.00 523.50C16.93 523.12 19.53 523.47 21.60 522.80C23.67 522.13 25.73 520.05 27.40 519.50C29.07 518.95 30.35 520.70 31.60 519.50C32.85 518.30 33.52 513.97 34.90 512.30C36.28 510.63 38.30 510.80 39.90 509.50C41.50 508.20 42.85 504.67 44.50 504.50C46.15 504.33 47.80 507.12 49.80 508.50C51.80 509.88 54.55 512.02 56.50 512.80C58.45 513.58 59.85 513.37 61.50 513.20C63.15 513.03 64.75 511.25 66.40 511.80C68.05 512.35 69.45 515.67 71.40 516.50C73.35 517.33 76.15 517.35 78.10 516.80C80.05 516.25 81.45 515.47 83.10 513.20C84.75 510.93 86.35 507.08 88.00 503.20C89.65 499.32 91.47 494.18 93.00 489.90C94.53 485.62 95.82 480.27 97.20 477.50C98.58 474.73 99.78 474.13 101.30 473.30C102.82 472.47 104.35 472.22 106.30 472.50C108.25 472.78 110.78 474.03 113.00 475.00C115.22 475.97 117.40 477.75 119.60 478.30C121.80 478.85 123.98 478.85 126.20 478.30C128.42 477.75 130.68 475.88 132.90 475.00C135.12 474.12 137.28 473.42 139.50 473.00C141.72 472.58 143.43 472.58 146.20 472.50C148.97 472.42 153.80 472.37 156.10 472.50C158.40 472.63 158.52 472.33 160.00 473.30C161.48 474.27 163.33 476.78 165.00 478.30C166.67 479.82 168.33 480.73 170.00 482.40C171.67 484.07 173.35 486.63 175.00 488.30C176.65 489.97 178.25 491.08 179.90 492.40C181.55 493.72 183.37 497.03 184.90 496.20C186.43 495.37 187.72 489.33 189.10 487.40C190.48 485.47 191.82 484.87 193.20 484.60C194.58 484.33 195.87 484.50 197.40 485.80C198.93 487.10 200.75 491.85 202.40 492.40C204.05 492.95 205.78 490.62 207.30 489.10C208.82 487.58 210.12 484.88 211.50 483.30C212.88 481.72 214.22 480.02 215.60 479.60C216.98 479.18 218.27 480.05 219.80 480.80C221.33 481.55 223.28 482.72 224.80 484.10C226.32 485.48 227.52 487.17 228.90 489.10C230.28 491.03 231.72 492.65 233.10 495.70C234.48 498.75 235.82 504.35 237.20 507.40C238.58 510.45 240.02 511.98 241.40 514.00C242.78 516.02 244.12 519.22 245.50 519.50C246.88 519.78 248.17 516.53 249.70 515.70C251.23 514.87 253.03 514.50 254.70 514.50C256.37 514.50 258.18 515.23 259.70 515.70C261.22 516.17 262.42 517.50 263.80 517.30C265.18 517.10 266.62 515.88 268.00 514.50C269.38 513.12 270.58 510.33 272.10 509.00C273.62 507.67 275.43 506.77 277.10 506.50C278.77 506.23 280.43 507.45 282.10 507.40C283.77 507.35 285.30 506.68 287.10 506.20C288.90 505.72 291.10 504.87 292.90 504.50C294.70 504.13 296.23 504.77 297.90 504.00C299.57 503.23 301.25 501.55 302.90 499.90C304.55 498.25 306.15 496.03 307.80 494.10C309.45 492.17 311.27 489.97 312.80 488.30C314.33 486.63 315.75 484.88 317.00 484.10C318.25 483.32 319.05 482.90 320.30 483.60C321.55 484.30 323.25 485.58 324.50 488.30C325.75 491.02 326.88 496.45 327.80 499.90C328.72 503.35 329.08 506.78 330.00 509.00C330.92 511.22 332.05 513.05 333.30 513.20C334.55 513.35 335.97 512.12 337.50 509.90C339.03 507.68 340.85 503.23 342.50 499.90C344.15 496.57 345.88 492.95 347.40 489.90C348.92 486.85 350.22 483.82 351.60 481.60C352.98 479.38 354.32 477.85 355.70 476.60C357.08 475.35 358.37 474.37 359.90 474.10C361.43 473.83 362.82 474.63 364.90 475.00C366.98 475.37 370.47 476.25 372.40 476.30C374.33 476.35 374.98 475.58 376.50 475.30C378.02 475.02 379.83 474.23 381.50 474.60C383.17 474.97 384.98 475.63 386.50 477.50C388.02 479.37 389.35 482.35 390.60 485.80C391.85 489.25 392.75 494.47 394.00 498.20C395.25 501.93 396.58 505.98 398.10 508.20C399.62 510.42 401.58 512.28 403.10 511.50C404.62 510.72 405.82 504.38 407.20 503.50C408.58 502.62 409.87 504.58 411.40 506.20C412.93 507.82 414.88 510.80 416.40 513.20C417.92 515.60 419.12 518.95 420.50 520.60C421.88 522.25 423.17 523.50 424.70 523.10C426.23 522.70 428.18 519.72 429.70 518.20C431.22 516.68 432.42 515.25 433.80 514.00C435.18 512.75 436.47 511.67 438.00 510.70C439.53 509.73 441.35 509.03 443.00 508.20C444.65 507.37 446.25 506.25 447.90 505.70C449.55 505.15 451.23 505.45 452.90 504.90C454.57 504.35 456.23 503.18 457.90 502.40C459.57 501.62 461.23 500.75 462.90 500.20C464.57 499.65 466.23 499.57 467.90 499.10C469.57 498.63 471.25 498.65 472.90 497.40C474.55 496.15 476.28 493.68 477.80 491.60C479.32 489.52 480.62 486.70 482.00 484.90C483.38 483.10 484.58 481.22 486.10 480.80C487.62 480.38 489.43 481.57 491.10 482.40C492.77 483.23 494.62 484.97 496.10 485.80C497.58 486.63 498.52 487.82 500.00 487.40C501.48 486.98 503.48 484.48 505.00 483.30C506.52 482.12 507.85 481.18 509.10 480.30C510.35 479.42 511.25 477.83 512.50 478.00C513.75 478.17 515.22 481.03 516.60 481.30C517.98 481.57 519.28 479.13 520.80 479.60C522.32 480.07 524.18 484.18 525.70 484.10C527.22 484.02 528.50 479.57 529.90 479.10C531.30 478.63 532.72 481.85 534.10 481.30C535.48 480.75 536.68 476.92 538.20 475.80C539.72 474.68 541.53 475.02 543.20 474.60C544.87 474.18 546.68 473.65 548.20 473.30C549.72 472.95 551.07 471.80 552.30 472.50C553.53 473.20 554.35 476.12 555.60 477.50C556.85 478.88 558.27 479.33 559.80 480.80C561.33 482.27 563.28 485.67 564.80 486.30C566.32 486.93 567.52 484.68 568.90 484.60C570.28 484.52 571.72 484.92 573.10 485.80C574.48 486.68 575.68 487.60 577.20 489.90C578.72 492.20 580.53 497.72 582.20 499.60C583.87 501.48 585.67 501.43 587.20 501.20C588.73 500.97 590.02 499.58 591.40 498.20C592.78 496.82 594.12 493.17 595.50 492.90C596.88 492.63 598.17 496.32 599.70 496.60C601.23 496.88 603.18 495.22 604.70 494.60C606.22 493.98 607.42 493.40 608.80 492.90C610.18 492.40 611.62 491.32 613.00 491.60C614.38 491.88 615.58 493.08 617.10 494.60C618.62 496.12 620.58 499.95 622.10 500.70C623.62 501.45 624.68 499.10 626.20 499.10C627.72 499.10 629.67 500.62 631.20 500.70C632.73 500.78 634.02 500.57 635.40 499.60C636.78 498.63 638.12 497.77 639.50 494.90C640.88 492.03 642.32 485.22 643.70 482.40C645.08 479.58 646.42 479.10 647.80 478.00C649.18 476.90 650.47 476.25 652.00 475.80C653.53 475.35 655.33 475.02 657.00 475.30C658.67 475.58 660.48 476.17 662.00 477.50C663.52 478.83 664.77 481.23 666.10 483.30C667.43 485.37 668.65 487.92 670.00 489.90C671.35 491.88 672.82 494.50 674.20 495.20C675.58 495.90 676.92 494.77 678.30 494.10C679.68 493.43 681.12 491.35 682.50 491.20C683.88 491.05 685.08 491.62 686.60 493.20C688.12 494.78 690.08 498.62 691.60 500.70C693.12 502.78 694.18 505.28 695.70 505.70C697.22 506.12 699.17 504.45 700.70 503.20C702.23 501.95 703.52 500.20 704.90 498.20C706.28 496.20 707.62 492.37 709.00 491.20C710.38 490.03 711.82 490.03 713.20 491.20C714.58 492.37 715.92 494.95 717.30 498.20C718.68 501.45 719.97 506.60 721.50 510.70C723.03 514.80 724.83 520.50 726.50 522.80C728.17 525.10 729.70 524.30 731.50 524.50C733.30 524.70 735.37 524.78 737.30 524.00C739.23 523.22 741.30 520.92 743.10 519.80C744.90 518.68 746.43 518.55 748.10 517.30C749.77 516.05 751.17 513.13 753.10 512.30C755.03 511.47 757.63 511.65 759.70 512.30C761.77 512.95 763.83 515.45 765.50 516.20C767.17 516.95 768.17 516.42 769.70 516.80C771.23 517.18 773.05 518.50 774.70 518.50C776.35 518.50 777.95 517.55 779.60 516.80C781.25 516.05 782.93 514.88 784.60 514.00C786.27 513.12 787.93 512.13 789.60 511.50C791.27 510.87 792.67 510.62 794.60 510.20C796.53 509.78 799.40 509.62 801.20 509.00C803.00 508.38 804.02 507.13 805.40 506.50C806.78 505.87 808.12 504.63 809.50 505.20C810.88 505.77 812.17 508.52 813.70 509.90C815.23 511.28 817.32 513.07 818.70 513.50C820.08 513.93 820.68 513.95 822.00 512.50C823.32 511.05 825.10 506.92 826.60 504.80C828.10 502.68 829.43 501.05 831.00 499.80C832.57 498.55 834.52 497.62 836.00 497.30C837.48 496.98 838.52 497.30 839.90 497.90C841.28 498.50 842.83 499.85 844.30 500.90C845.77 501.95 847.23 503.47 848.70 504.20C850.17 504.93 851.62 504.75 853.10 505.30C854.58 505.85 856.12 506.48 857.60 507.50C859.08 508.52 860.53 510.47 862.00 511.40C863.47 512.33 864.93 512.73 866.40 513.10C867.87 513.47 869.33 513.18 870.80 513.60C872.27 514.02 873.72 515.13 875.20 515.60C876.68 516.07 878.58 516.82 879.70 516.40C880.82 515.98 881.20 514.33 881.90 513.10C882.60 511.87 883.57 509.68 883.90 509.00" fill="none" stroke="#333333" stroke-width="1.2" stroke-linejoin="round"/>
<path d="M0.00 508.50C0.83 509.55 3.33 512.63 5.00 514.80C6.67 516.97 8.62 519.97 10.00 521.50C11.38 523.03 11.92 523.67 13.30 524.00C14.68 524.33 16.37 523.78 18.30 523.50C20.23 523.22 22.68 522.78 24.90 522.30C27.12 521.82 29.67 521.70 31.60 520.60C33.53 519.50 34.57 517.48 36.50 515.70C38.43 513.92 41.25 511.28 43.20 509.90C45.15 508.52 46.53 507.47 48.20 507.40C49.87 507.33 51.27 508.68 53.20 509.50C55.13 510.32 57.60 511.75 59.80 512.30C62.00 512.85 64.18 512.38 66.40 512.80C68.62 513.22 70.88 514.18 73.10 514.80C75.32 515.42 77.77 516.77 79.70 516.50C81.63 516.23 83.03 514.87 84.70 513.20C86.37 511.53 88.03 509.27 89.70 506.50C91.37 503.73 93.03 500.47 94.70 496.60C96.37 492.73 98.03 486.77 99.70 483.30C101.37 479.83 103.32 477.42 104.70 475.80C106.08 474.18 106.35 473.73 108.00 473.60C109.65 473.47 112.38 474.43 114.60 475.00C116.82 475.57 119.08 476.45 121.30 477.00C123.52 477.55 125.68 478.50 127.90 478.30C130.12 478.10 132.38 476.63 134.60 475.80C136.82 474.97 138.72 473.85 141.20 473.30C143.68 472.75 146.73 472.63 149.50 472.50C152.27 472.37 156.05 472.50 157.80 472.50C159.55 472.50 158.53 471.82 160.00 472.50C161.47 473.18 164.38 474.80 166.60 476.60C168.82 478.40 171.08 481.08 173.30 483.30C175.52 485.52 177.68 488.30 179.90 489.90C182.12 491.50 184.65 492.77 186.60 492.90C188.55 493.03 189.80 491.88 191.60 490.70C193.40 489.52 195.47 486.27 197.40 485.80C199.33 485.33 201.13 487.35 203.20 487.90C205.27 488.45 207.73 489.73 209.80 489.10C211.87 488.47 213.80 485.48 215.60 484.10C217.40 482.72 218.93 481.08 220.60 480.80C222.27 480.52 223.80 481.15 225.60 482.40C227.40 483.65 229.60 485.67 231.40 488.30C233.20 490.93 234.73 494.88 236.40 498.20C238.07 501.52 239.73 505.28 241.40 508.20C243.07 511.12 244.73 514.18 246.40 515.70C248.07 517.22 249.75 517.30 251.40 517.30C253.05 517.30 254.37 515.83 256.30 515.70C258.23 515.57 260.78 516.78 263.00 516.50C265.22 516.22 267.38 515.10 269.60 514.00C271.82 512.90 274.35 511.00 276.30 509.90C278.25 508.80 279.37 507.97 281.30 507.40C283.23 506.83 285.97 506.78 287.90 506.50C289.83 506.22 290.97 506.25 292.90 505.70C294.83 505.15 297.57 504.17 299.50 503.20C301.43 502.23 302.83 501.28 304.50 499.90C306.17 498.52 307.83 496.57 309.50 494.90C311.17 493.23 312.70 491.42 314.50 489.90C316.30 488.38 318.63 486.35 320.30 485.80C321.97 485.25 323.25 485.50 324.50 486.60C325.75 487.70 326.88 490.88 327.80 492.40C328.72 493.92 329.08 493.90 330.00 495.70C330.92 497.50 332.05 500.83 333.30 503.20C334.55 505.57 335.97 509.20 337.50 509.90C339.03 510.60 340.85 509.35 342.50 507.40C344.15 505.45 345.75 501.38 347.40 498.20C349.05 495.02 350.73 491.20 352.40 488.30C354.07 485.40 355.73 482.80 357.40 480.80C359.07 478.80 360.73 477.27 362.40 476.30C364.07 475.33 365.60 475.08 367.40 475.00C369.20 474.92 371.40 475.67 373.20 475.80C375.00 475.93 376.53 475.88 378.20 475.80C379.87 475.72 381.40 474.88 383.20 475.30C385.00 475.72 387.35 476.42 389.00 478.30C390.65 480.18 391.72 483.55 393.10 486.60C394.48 489.65 395.77 493.28 397.30 496.60C398.83 499.92 400.78 504.52 402.30 506.50C403.82 508.48 404.88 508.27 406.40 508.50C407.92 508.73 409.88 508.00 411.40 507.90C412.92 507.80 414.12 507.02 415.50 507.90C416.88 508.78 418.30 511.48 419.70 513.20C421.10 514.92 422.38 516.97 423.90 518.20C425.42 519.43 427.15 520.47 428.80 520.60C430.45 520.73 432.27 519.97 433.80 519.00C435.33 518.03 436.47 516.05 438.00 514.80C439.53 513.55 441.35 512.55 443.00 511.50C444.65 510.45 446.25 509.33 447.90 508.50C449.55 507.67 451.23 507.10 452.90 506.50C454.57 505.90 456.23 505.50 457.90 504.90C459.57 504.30 461.23 503.60 462.90 502.90C464.57 502.20 466.23 501.33 467.90 500.70C469.57 500.07 471.38 499.65 472.90 499.10C474.42 498.55 475.62 498.38 477.00 497.40C478.38 496.42 479.82 494.87 481.20 493.20C482.58 491.53 483.92 489.20 485.30 487.40C486.68 485.60 487.97 483.23 489.50 482.40C491.03 481.57 492.75 481.77 494.50 482.40C496.25 483.03 497.98 485.78 500.00 486.20C502.02 486.62 504.38 485.72 506.60 484.90C508.82 484.08 511.08 482.18 513.30 481.30C515.52 480.42 517.68 479.50 519.90 479.60C522.12 479.70 524.38 481.70 526.60 481.90C528.82 482.10 530.98 481.62 533.20 480.80C535.42 479.98 537.68 478.03 539.90 477.00C542.12 475.97 544.28 475.22 546.50 474.60C548.72 473.98 550.98 472.97 553.20 473.30C555.42 473.63 557.87 475.22 559.80 476.60C561.73 477.98 562.87 480.27 564.80 481.60C566.73 482.93 569.33 483.63 571.40 484.60C573.47 485.57 575.40 485.97 577.20 487.40C579.00 488.83 580.40 491.25 582.20 493.20C584.00 495.15 586.20 498.27 588.00 499.10C589.80 499.93 591.05 498.68 593.00 498.20C594.95 497.72 597.48 496.75 599.70 496.20C601.92 495.65 604.08 495.45 606.30 494.90C608.52 494.35 610.78 492.77 613.00 492.90C615.22 493.03 617.40 494.67 619.60 495.70C621.80 496.73 623.98 498.35 626.20 499.10C628.42 499.85 630.95 500.20 632.90 500.20C634.85 500.20 636.23 500.53 637.90 499.10C639.57 497.67 641.25 494.23 642.90 491.60C644.55 488.97 646.15 485.65 647.80 483.30C649.45 480.95 651.13 478.75 652.80 477.50C654.47 476.25 656.27 475.95 657.80 475.80C659.33 475.65 660.62 475.90 662.00 476.60C663.38 477.30 664.77 479.03 666.10 480.00C667.43 480.97 668.65 480.75 670.00 482.40C671.35 484.05 672.82 488.03 674.20 489.90C675.58 491.77 676.78 493.05 678.30 493.60C679.82 494.15 681.78 493.32 683.30 493.20C684.82 493.08 686.02 492.57 687.40 492.90C688.78 493.23 690.07 493.90 691.60 495.20C693.13 496.50 695.08 499.32 696.60 500.70C698.12 502.08 699.32 503.13 700.70 503.50C702.08 503.87 703.37 503.92 704.90 502.90C706.43 501.88 708.23 498.95 709.90 497.40C711.57 495.85 713.52 494.02 714.90 493.60C716.28 493.18 716.97 493.43 718.20 494.90C719.43 496.37 720.78 499.22 722.30 502.40C723.82 505.58 725.63 510.68 727.30 514.00C728.97 517.32 730.78 520.55 732.30 522.30C733.82 524.05 734.88 524.37 736.40 524.50C737.92 524.63 739.60 523.67 741.40 523.10C743.20 522.53 745.25 522.15 747.20 521.10C749.15 520.05 750.88 518.27 753.10 516.80C755.32 515.33 758.30 512.68 760.50 512.30C762.70 511.92 764.22 513.67 766.30 514.50C768.38 515.33 770.78 516.83 773.00 517.30C775.22 517.77 777.38 517.77 779.60 517.30C781.82 516.83 784.08 515.47 786.30 514.50C788.52 513.53 790.68 512.27 792.90 511.50C795.12 510.73 797.38 510.58 799.60 509.90C801.82 509.22 804.27 507.90 806.20 507.40C808.13 506.90 809.53 506.63 811.20 506.90C812.87 507.17 814.40 508.23 816.20 509.00C818.00 509.77 820.63 511.00 822.00 511.50C823.37 512.00 823.27 512.57 824.40 512.00C825.53 511.43 827.32 509.67 828.80 508.10C830.28 506.53 831.82 504.17 833.30 502.60C834.78 501.03 836.23 499.45 837.70 498.70C839.17 497.95 840.63 497.92 842.10 498.10C843.57 498.28 845.03 499.05 846.50 499.80C847.97 500.55 849.42 501.77 850.90 502.60C852.38 503.43 853.92 503.98 855.40 504.80C856.88 505.62 858.33 506.58 859.80 507.50C861.27 508.42 862.73 509.47 864.20 510.30C865.67 511.13 867.13 511.80 868.60 512.50C870.07 513.20 871.52 513.95 873.00 514.50C874.48 515.05 876.20 515.67 877.50 515.80C878.80 515.93 879.73 515.67 880.80 515.30C881.87 514.93 883.38 513.88 883.90 513.60" fill="none" stroke="#ff2020" stroke-width="1.2" stroke-linejoin="round"/>
<line x1="849.1" y1="262.8" x2="982" y2="262.8" stroke="#4a4a4a" stroke-width="1.7" opacity="0.9"/>
<g stroke="#c8c8c8" stroke-width="1.4" fill="none">
<line x1="0" y1="453.0" x2="982.9000000000001" y2="453.0"/>
<line x1="982.2" y1="0" x2="982.2" y2="453.0"/>
<line x1="0" y1="470.4" x2="982.9000000000001" y2="470.4"/>
<line x1="982.2" y1="470.4" x2="982.2" y2="603.3"/>
<line x1="0" y1="527.0" x2="982.9000000000001" y2="527.0"/>
<line x1="0" y1="603.3" x2="1024" y2="603.3"/>
</g>
<g stroke="#c8c8c8" stroke-width="1">
<line x1="5.0" y1="453.0" x2="5.0" y2="457.5"/>
<line x1="101.5" y1="453.0" x2="101.5" y2="457.5"/>
<line x1="197.7" y1="453.0" x2="197.7" y2="457.5"/>
<line x1="289.8" y1="453.0" x2="289.8" y2="457.5"/>
<line x1="390.4" y1="453.0" x2="390.4" y2="457.5"/>
<line x1="482.1" y1="453.0" x2="482.1" y2="457.5"/>
<line x1="578.3" y1="453.0" x2="578.3" y2="457.5"/>
<line x1="678.8" y1="453.0" x2="678.8" y2="457.5"/>
<line x1="766.4" y1="453.0" x2="766.4" y2="457.5"/>
<line x1="864.5" y1="453.0" x2="864.5" y2="457.5"/>
<line x1="963.1" y1="453.0" x2="963.1" y2="457.5"/>
</g>
<g stroke="#aaaaaa" stroke-width="1">
<line x1="982.2" y1="1.21" x2="985.2" y2="1.21"/>
<line x1="982.2" y1="34.33" x2="985.2" y2="34.33"/>
<line x1="982.2" y1="67.44" x2="985.2" y2="67.44"/>
<line x1="982.2" y1="100.55" x2="985.2" y2="100.55"/>
<line x1="982.2" y1="133.66" x2="985.2" y2="133.66"/>
<line x1="982.2" y1="166.77" x2="985.2" y2="166.77"/>
<line x1="982.2" y1="199.89" x2="985.2" y2="199.89"/>
<line x1="982.2" y1="233.00" x2="985.2" y2="233.00"/>
<line x1="982.2" y1="266.11" x2="985.2" y2="266.11"/>
<line x1="982.2" y1="299.22" x2="985.2" y2="299.22"/>
<line x1="982.2" y1="332.34" x2="985.2" y2="332.34"/>
<line x1="982.2" y1="365.45" x2="985.2" y2="365.45"/>
<line x1="982.2" y1="398.56" x2="985.2" y2="398.56"/>
<line x1="982.2" y1="431.68" x2="985.2" y2="431.68"/>
<line x1="982.2" y1="481.90" x2="985.2" y2="481.90"/>
<line x1="982.2" y1="516.40" x2="985.2" y2="516.40"/>
<line x1="982.2" y1="536.70" x2="985.2" y2="536.70"/>
<line x1="982.2" y1="550.00" x2="985.2" y2="550.00"/>
<line x1="982.2" y1="563.30" x2="985.2" y2="563.30"/>
<line x1="982.2" y1="576.40" x2="985.2" y2="576.40"/>
<line x1="982.2" y1="590.00" x2="985.2" y2="590.00"/>
</g>
<g font-family="'Liberation Sans', Arial, sans-serif" font-size="8.7" fill="#444">
<text x="987.8" y="3.71">14.75</text>
<text x="987.8" y="36.83">14.50</text>
<text x="987.8" y="69.94">14.25</text>
<text x="987.8" y="103.05">14.00</text>
<text x="987.8" y="136.16">13.75</text>
<text x="987.8" y="169.27">13.50</text>
<text x="987.8" y="202.39">13.25</text>
<text x="987.8" y="235.50">13.00</text>
<text x="987.8" y="268.61">12.75</text>
<text x="987.8" y="301.72">12.50</text>
<text x="987.8" y="334.84">12.25</text>
<text x="987.8" y="367.95">12.00</text>
<text x="987.8" y="401.06">11.75</text>
<text x="987.8" y="434.18">11.50</text>
<text x="987.8" y="484.20">80</text>
<text x="987.8" y="539.00">25.0k</text>
<text x="987.8" y="552.40">20.0k</text>
<text x="987.8" y="565.70">15.0k</text>
<text x="987.8" y="578.80">10.00k</text>
<text x="987.8" y="592.40">5.00k</text>
</g>
<g font-family="'Liberation Sans', Arial, sans-serif" font-size="10.6" fill="#666" text-anchor="middle">
<text x="5.0" y="467.0">Apr</text>
<text x="101.5" y="467.0">May</text>
<text x="197.7" y="467.0">Jun</text>
<text x="289.8" y="467.0">Jul</text>
<text x="390.4" y="467.0">Aug</text>
<text x="482.1" y="467.0">Sep</text>
<text x="578.3" y="467.0">Oct</text>
<text x="678.8" y="467.0">Nov</text>
<text x="766.4" y="467.0">Dec</text>
<text x="864.5" y="467.0">2026</text>
<text x="963.1" y="467.0">Feb</text>
</g>
<path d="M223.9 54.5V61.6M220.3 58.1L223.9 61.6L227.5 58.1" stroke="#f07777" stroke-width="1.75" fill="none" stroke-linecap="round" stroke-linejoin="round"/>
<path d="M376.6 58.800000000000004V66.19999999999999M373.0 62.699999999999996L376.6 66.19999999999999L380.20000000000005 62.699999999999996" stroke="#f07777" stroke-width="1.75" fill="none" stroke-linecap="round" stroke-linejoin="round"/>
<path d="M660.6 8.9V16.1M657.0 12.6L660.6 16.1L664.2 12.6" stroke="#f07777" stroke-width="1.75" fill="none" stroke-linecap="round" stroke-linejoin="round"/>
<path d="M70.4 439.79999999999995V432.7M66.80000000000001 436.2L70.4 432.7L74.0 436.2" stroke="#2ecc3a" stroke-width="1.75" fill="none" stroke-linecap="round" stroke-linejoin="round"/>
<path d="M420.6 293.0V285.59999999999997M417.0 289.09999999999997L420.6 285.59999999999997L424.20000000000005 289.09999999999997" stroke="#2ecc3a" stroke-width="1.75" fill="none" stroke-linecap="round" stroke-linejoin="round"/>
<path d="M875.3 276.79999999999995V269.4M871.6999999999999 272.9L875.3 269.4L878.9 272.9" stroke="#2ecc3a" stroke-width="1.75" fill="none" stroke-linecap="round" stroke-linejoin="round"/>
<rect x="2.9" y="10.1" width="287.1" height="19.5" fill="#9b9b9b"/>
<rect x="2.9" y="29.6" width="287.1" height="0.8" fill="#000" opacity="0.08"/>
<text x="12.1" y="23.55" font-family="'Liberation Sans', Arial, sans-serif" font-size="11.2" fill="#fff" stroke="#fff" stroke-width="0.35" textLength="269.0" lengthAdjust="spacingAndGlyphs">CLDD.ASX - BETASHARES CLOUD COMPUTING ETF</text>
<path d="M306.9 18.9V15.9H309.9 M312.9 15.9H315.9V18.9 M315.9 20.3V23.3H312.9 M309.9 23.3H306.9V20.3" stroke="#555" stroke-width="2.0" fill="none"/>
<path d="M337.7 14.1V24.3M332.59999999999997 19.200000000000003L337.7 24.3L342.8 19.200000000000003" stroke="#7a7a7a" stroke-width="1.2" fill="none"/>
<rect x="2.9" y="483.6" width="77.1" height="19.2" fill="#9b9b9b"/>
<text x="11.8" y="496.9" font-family="'Liberation Sans', Arial, sans-serif" font-size="11.2" fill="#fff" stroke="#fff" stroke-width="0.35" textLength="60.4" lengthAdjust="spacingAndGlyphs">STOCH (21)</text>
<path d="M102.3 498.6V488.2M97.2 493.0L102.3 488.2L107.39999999999999 493.0" stroke="#7a7a7a" stroke-width="1.2" fill="none"/>
<path d="M123.5 492.2V489.4H126.3 M129.89999999999998 489.4H132.7V492.2 M132.7 493.79999999999995V496.59999999999997H129.89999999999998 M126.3 496.59999999999997H123.5V493.79999999999995" stroke="#555" stroke-width="1.7" fill="none"/>
<path d="M154.6 488.0V498.1M149.5 492.90000000000003L154.6 498.1L159.7 492.90000000000003" stroke="#7a7a7a" stroke-width="1.2" fill="none"/>
<path d="M176.4 488.59999999999997L184.6 496.8M184.6 488.59999999999997L176.4 496.8" stroke="#5a5a5a" stroke-width="1.5" fill="none"/>
<rect x="2.9" y="540.3" width="64" height="19.4" fill="#9b9b9b"/>
<text x="11.9" y="553.65" font-family="'Liberation Sans', Arial, sans-serif" font-size="11.2" fill="#fff" stroke="#fff" stroke-width="0.35" textLength="45.5" lengthAdjust="spacingAndGlyphs">VOLUME</text>
<path d="M88.8 555.4V545.0M83.7 550.3L88.8 545.0L93.89999999999999 550.3" stroke="#7a7a7a" stroke-width="1.2" fill="none"/>
<path d="M110.1 548.9V546.1H112.89999999999999 M116.2 546.1H119.0V548.9 M119.0 550.9000000000001V553.7H116.2 M112.89999999999999 553.7H110.1V550.9000000000001" stroke="#555" stroke-width="1.7" fill="none"/>
<path d="M136.7 545.45L145.5 554.25M145.5 545.45L136.7 554.25" stroke="#5a5a5a" stroke-width="1.5" fill="none"/>
<path d="M974.7 179.65L981.6 172.70H1010 Q1012 172.70 1012 174.70V184.60Q1012 186.60 1010 186.60H981.6Z" fill="#8cc47c"/><text x="987.6" y="182.85" font-family="'Liberation Sans', Arial, sans-serif" font-size="9.0" fill="#1a1a1a">13.40</text>
<path d="M974.7 207.00L981.6 200.00H1010 Q1012 200.00 1012 202.00V212.00Q1012 214.00 1010 214.00H981.6Z" fill="#ff0000"/><text x="987.6" y="210.20" font-family="'Liberation Sans', Arial, sans-serif" font-size="9.0" fill="#1a1a1a">13.19</text>
<path d="M974.7 508.65L981.6 501.70H1010 Q1012 501.70 1012 503.70V513.60Q1012 515.60 1010 515.60H981.6Z" fill="#000000"/><text x="987.6" y="511.85" font-family="'Liberation Sans', Arial, sans-serif" font-size="9.0" fill="#ffffff">22.95</text>
<path d="M974.7 513.85L981.6 506.80H1010 Q1012 506.80 1012 508.80V518.90Q1012 520.90 1010 520.90H981.6Z" fill="#ff0000"/><text x="987.6" y="517.05" font-family="'Liberation Sans', Arial, sans-serif" font-size="9.0" fill="#1a1a1a">22.66</text>
<rect x="450.0" y="433.0" width="18.1" height="17.8" fill="#ffff7c"/><g transform="translate(459.2 441.8) rotate(-41)" fill="#c8c8bc"><path d="M-7.2 0L-4.4 -1.9H3.4V1.9H-4.4Z"/><rect x="4.3" y="-1.9" width="2.8" height="3.8" rx="1.1"/><path d="M-2.5 -0.3H2" stroke="#e8e89a" stroke-width="0.6" stroke-dasharray="1 1"/></g>
<rect x="533.1" y="433.0" width="18.1" height="17.8" fill="#ffff7c"/><g transform="translate(542.3000000000001 441.8) rotate(-41)" fill="#c8c8bc"><path d="M-7.2 0L-4.4 -1.9H3.4V1.9H-4.4Z"/><rect x="4.3" y="-1.9" width="2.8" height="3.8" rx="1.1"/><path d="M-2.5 -0.3H2" stroke="#e8e89a" stroke-width="0.6" stroke-dasharray="1 1"/></g>
<rect x="669.4" y="433.0" width="18.1" height="17.8" fill="#ffff7c"/><g transform="translate(678.6 441.8) rotate(-41)" fill="#c8c8bc"><path d="M-7.2 0L-4.4 -1.9H3.4V1.9H-4.4Z"/><rect x="4.3" y="-1.9" width="2.8" height="3.8" rx="1.1"/><path d="M-2.5 -0.3H2" stroke="#e8e89a" stroke-width="0.6" stroke-dasharray="1 1"/></g>
<rect x="752.6" y="433.0" width="18.1" height="17.8" fill="#ffff7c"/><g transform="translate(761.8000000000001 441.8) rotate(-41)" fill="#c8c8bc"><path d="M-7.2 0L-4.4 -1.9H3.4V1.9H-4.4Z"/><rect x="4.3" y="-1.9" width="2.8" height="3.8" rx="1.1"/><path d="M-2.5 -0.3H2" stroke="#e8e89a" stroke-width="0.6" stroke-dasharray="1 1"/></g>
<rect x="721.9" y="433.0" width="26" height="17.5" fill="#7cc07c"/>
<rect x="730.0" y="433.0" width="10.2" height="17.5" fill="#3c9c3c"/>
<rect x="738.0" y="437.3" width="2.2" height="7.8" fill="#ffffff"/>
<rect x="730.0" y="437.3" width="1.4" height="7.8" fill="#7cc07c"/>
<rect x="461.2" y="412.3" width="62.8" height="22.9" rx="3" fill="#ebebeb" opacity="0.8"/>
<line x1="493.8" y1="416.0" x2="493.8" y2="430.6" stroke="#cfcfcf" stroke-width="1"/>
<line x1="359.2" y1="428.4" x2="982" y2="428.4" stroke="#4a4a4a" stroke-width="1.6" opacity="0.9"/>
<path d="M471.0 423.0H482.7" stroke="#4a4a4a" stroke-width="2.4"/>
<path d="M502.6 423.0H514.0M508.4 417.4V428.6" stroke="#4a4a4a" stroke-width="2.4"/>
</svg>
</body></html>
